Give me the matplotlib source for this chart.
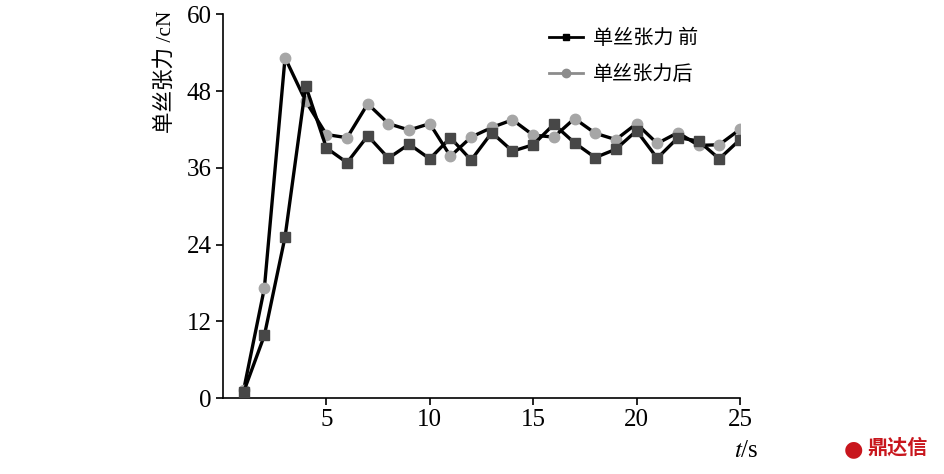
''' ========================================================
Aim: Plotting single-filament tension before / after

---------------------------------------------------------'''

# importing libraries
import matplotlib
matplotlib.use("Agg")
import matplotlib.pyplot as plt

# fonts
plt.rcParams['font.family'] = ['Liberation Serif', 'Noto Sans CJK SC', 'DejaVu Sans']
plt.rcParams['mathtext.fontset'] = 'stix'

# data
t_values      = list(range(1, 26))
tension_pre   = [1.0, 9.8, 25.2, 48.8, 39.1, 36.8, 41.0, 37.5, 39.7, 37.4,
                 40.7, 37.2, 41.5, 38.6, 39.6, 42.8, 39.9, 37.6, 38.9, 41.8,
                 37.5, 40.7, 40.2, 37.4, 40.4]
tension_post  = [1.3, 17.2, 53.2, 46.4, 41.2, 40.7, 46.0, 42.9, 41.9, 42.9,
                 37.8, 40.8, 42.3, 43.5, 41.1, 40.8, 43.7, 41.4, 40.4, 42.9,
                 39.8, 41.5, 39.5, 39.6, 42.0]
y_ticks       = [0, 12, 24, 36, 48, 60]
x_ticks       = [5, 10, 15, 20, 25]
legend_labels = ["单丝张力 前", "单丝张力后"]

# plotting
fig = plt.figure(figsize=(9.45, 4.74), dpi=100)
ax  = fig.add_axes([0.236, 0.160, 0.547, 0.810])

ax.plot(t_values, tension_pre, color='black', lw=2.4, zorder=3,
        marker='s', ms=6.5, mfc='#474747', mec='#474747')
ax.plot(t_values, tension_post, color='black', lw=2.4, zorder=2,
        marker='o', ms=7.5, mfc='#a6a6a6', mec='#a6a6a6')

ax.set_xlim(0, 25); ax.set_ylim(0, 60)
ax.set_xticks(x_ticks); ax.set_yticks(y_ticks)
for s in ['top', 'right']:
    ax.spines[s].set_visible(False)
for s in ['left', 'bottom']:
    ax.spines[s].set_linewidth(1.2)
ax.tick_params(direction='out', length=5, width=1.2, labelsize=18, pad=3)

ax.set_ylabel("单丝张力 /cN", fontsize=15.5)
ax.yaxis.set_label_coords(-0.092, 0.85)
fig.text(0.790, 0.035, "$t$/s", fontsize=18, ha='center')

# legend with custom handles
h1, = ax.plot([], [], color='black', lw=2.0, marker='s', ms=5, mfc='black', mec='black')
h2, = ax.plot([], [], color='#8c8c8c', lw=2.0, marker='o', ms=6, mfc='#8c8c8c', mec='#8c8c8c')
leg = ax.legend([h1, h2], legend_labels, loc='upper left', bbox_to_anchor=(0.595, 1.012),
                frameon=False, handlelength=1.7, handletextpad=0.5, labelspacing=0.75,
                prop={'family': ['Noto Sans CJK SC', 'DejaVu Sans'], 'size': 14.5})

# watermark
fig.text(0.918, 0.043, "鼎达信", color='#c8161d', fontsize=14.5, fontweight='bold',
         family=['Noto Sans CJK SC', 'DejaVu Sans'])
fig.text(0.893, 0.040, "●", color='#c8161d', fontsize=16, family='DejaVu Sans')

plt.savefig("out.png", dpi=100)
